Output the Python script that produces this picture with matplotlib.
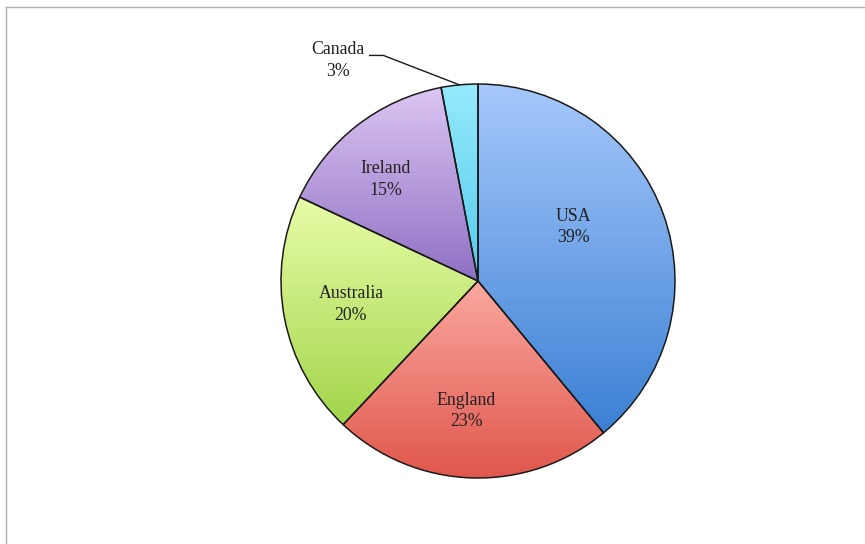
import numpy as np
import matplotlib.pyplot as plt
from matplotlib.colors import LinearSegmentedColormap
from matplotlib.lines import Line2D

countries = ['USA', 'England', 'Australia', 'Ireland', 'Canada']
shares = [39, 23, 20, 15, 3]
top_colors = ['#a6c8fb', '#faa89f', '#e8fca8', '#dcc6f2', '#95eafb']
bottom_colors = ['#3b80d4', '#e0564c', '#a2d54a', '#8e70c4', '#55cbec']

# label positions (in pie radius units)
label_pos = [(0.485, 0.275), (-0.06, -0.66), (-0.645, -0.12), (-0.47, 0.515), (-0.71, 1.12)]

plt.rcParams['font.family'] = 'Liberation Serif'

fig = plt.figure(figsize=(8.65, 5.44), dpi=100)
fig.patch.set_facecolor('white')
R = 197
cx, cy = 478, 544 - 281
ax = fig.add_axes([(cx - R) / 865, (cy - R) / 544, 2 * R / 865, 2 * R / 544])
ax.axis('off')

wedges, _ = ax.pie(shares, startangle=90, counterclock=False, radius=1,
                   wedgeprops=dict(edgecolor='#1a1a1a', linewidth=1.1, facecolor='none'))

grad = np.linspace(0, 1, 256).reshape(-1, 1)
for w, c1, c2 in zip(wedges, top_colors, bottom_colors):
    cmap = LinearSegmentedColormap.from_list('g', [c1, c2])
    verts = w.get_path().vertices
    xmin, xmax = verts[:, 0].min(), verts[:, 0].max()
    ymin, ymax = verts[:, 1].min(), verts[:, 1].max()
    im = ax.imshow(grad, cmap=cmap, extent=[xmin, xmax, ymin, ymax], origin='upper',
                   aspect='auto', zorder=0)
    im.set_clip_path(w)
ax.set_xlim(-1, 1)
ax.set_ylim(-1, 1)

for name, val, (lx, ly) in zip(countries, shares, label_pos):
    ax.text(lx, ly, f'{name}\n{val}%', ha='center', va='center', fontsize=12.8,
            color='#222222', linespacing=1.35, clip_on=False)

# leader line for the small slice
theta = np.deg2rad(90 - 360 * (sum(shares[:-1]) + shares[-1] / 2) / 100)
ex, ey = np.cos(theta), np.sin(theta)
ax.plot([-0.55, -0.48, ex], [1.145, 1.145, ey], color='#1a1a1a', lw=1, clip_on=False)

# page frame
fig.add_artist(Line2D([6 / 865, 1], [1 - 7 / 544, 1 - 7 / 544], color='#b0b0b0', lw=1))
fig.add_artist(Line2D([6 / 865, 6 / 865], [0, 1 - 7 / 544], color='#b0b0b0', lw=1))

plt.savefig('out.png', dpi=100)
plt.close()
